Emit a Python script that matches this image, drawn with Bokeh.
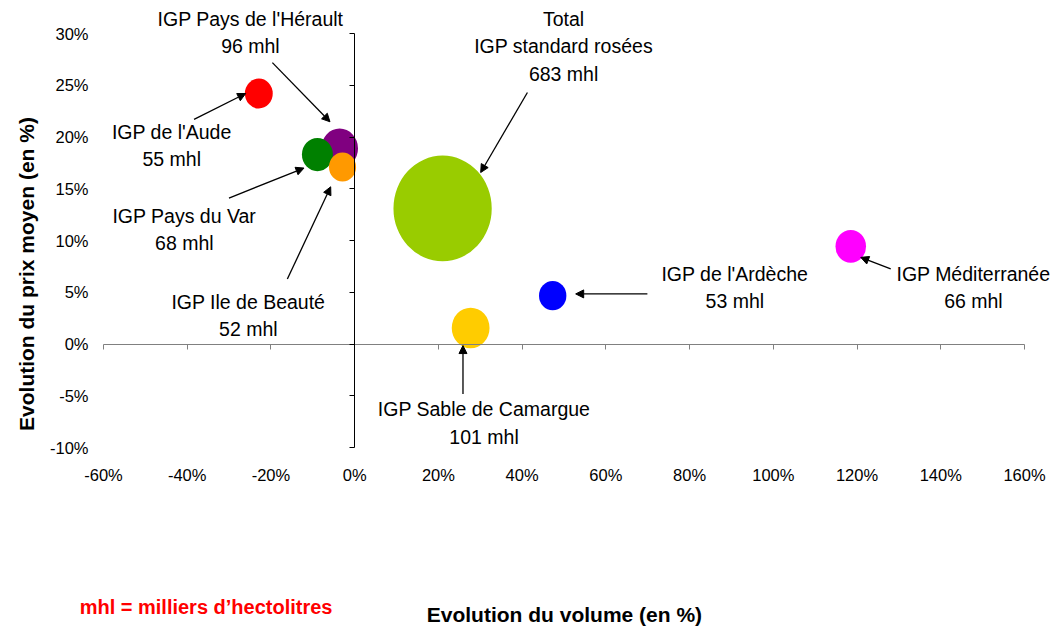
import numpy as np
from bokeh.plotting import figure
from bokeh.models import (ColumnDataSource, Range1d, LinearAxis, FixedTicker,
                          PrintfTickFormatter, Label, Arrow, NormalHead)
from bokeh.embed import file_html
from bokeh.resources import INLINE

# ---------------- data ----------------
names = ["Total\nIGP standard rosées", "IGP Sable de Camargue", "IGP Pays de l'Hérault",
         "IGP Pays du Var", "IGP Méditerranée", "IGP de l'Aude", "IGP de l'Ardèche",
         "IGP Ile de Beauté"]
vol_change = [21.0, 27.7, -3.6, -8.9, 118.5, -22.9, 47.3, -2.9]      # Evolution du volume (%)
price_change = [13.1, 1.55, 18.9, 18.3, 9.43, 24.2, 4.67, 17.1]     # Evolution du prix moyen (%)
volumes = [683, 101, 96, 68, 66, 55, 53, 52]                        # mhl
colors = ["#99CC00", "#FFCC00", "#800080", "#008000", "#FF00FF", "#FF0000", "#0000FF", "#FF9900"]

x_ticks = [-60, -40, -20, 0, 20, 40, 60, 80, 100, 120, 140, 160]
y_ticks = [-10, -5, 0, 5, 10, 15, 20, 25, 30]

# label anchor (centre of first line) in data units
label_x = [49.9, 30.9, -24.9, -40.7, 147.8, -43.7, 90.8, -25.4]
label_y = [31.4, -6.3, 31.4, 12.4, 6.8, 20.5, 6.8, 4.1]

# arrows: start (near label) -> end (near bubble)
arrow_x0 = [41.26, 25.87, -19.66, -30.03, 128.04, -38.37, 69.92, -16.08]
arrow_y0 = [24.30, -4.82, 27.19, 14.10, 7.25, 21.70, 4.84, 6.28]
arrow_x1 = [30.10, 25.87, -5.90, -12.11, 120.88, -26.04, 52.79, -5.73]
arrow_y1 = [16.57, -0.15, 21.47, 17.00, 8.37, 24.20, 4.84, 15.19]

FONT = "Liberation Sans"

# ---------------- layout geometry ----------------
W, H = 1051, 629
PLOT_L, PLOT_R, PLOT_T, PLOT_B = 103, 1024, 33, 447   # plot area in pixels
XMIN, XMAX, YMIN, YMAX = x_ticks[0], x_ticks[-1], y_ticks[0], y_ticks[-1]
kx = (PLOT_R - PLOT_L) / (XMAX - XMIN)
ky = (PLOT_B - PLOT_T) / (YMAX - YMIN)
x_range = Range1d(XMIN - PLOT_L / kx, XMAX + (W - PLOT_R) / kx)
y_range = Range1d(YMIN - (H - PLOT_B) / ky, YMAX + PLOT_T / ky)

p = figure(width=W, height=H, output_backend="svg", toolbar_location=None,
           x_range=x_range, y_range=y_range, x_axis_type=None, y_axis_type=None,
           min_border=0)
p.outline_line_color = None
p.background_fill_color = "white"
p.border_fill_color = "white"

# tick-label axes at the plot-area edges (no line, no ticks)
xl = LinearAxis(fixed_location=YMIN, bounds=(XMIN, XMAX), ticker=FixedTicker(ticks=x_ticks),
                formatter=PrintfTickFormatter(format="%d%%"), axis_line_color=None,
                major_tick_line_color=None, minor_tick_line_color=None,
                major_tick_out=0, major_tick_in=0, major_label_standoff=18,
                major_label_text_font=FONT, major_label_text_font_size="16.5px",
                major_label_text_color="black")
yl = LinearAxis(fixed_location=XMIN, bounds=(YMIN, YMAX), ticker=FixedTicker(ticks=y_ticks),
                formatter=PrintfTickFormatter(format="%d%%"), axis_line_color=None,
                major_tick_line_color=None, minor_tick_line_color=None,
                major_tick_out=0, major_tick_in=0, major_label_standoff=15,
                major_label_text_font=FONT, major_label_text_font_size="16.5px",
                major_label_text_color="black")
p.add_layout(xl, "below")
p.add_layout(yl, "left")

# central axes crossing at zero: lines and ticks only
xc = LinearAxis(fixed_location=0, bounds=(XMIN, XMAX), ticker=FixedTicker(ticks=x_ticks),
                axis_line_color="#808080", major_tick_line_color="#808080",
                major_tick_out=5, major_tick_in=0, minor_tick_line_color=None,
                major_label_text_color=None, major_label_text_font_size="1px")
yc = LinearAxis(fixed_location=0, bounds=(YMIN, YMAX), ticker=FixedTicker(ticks=y_ticks),
                axis_line_color="black", major_tick_line_color="black",
                major_tick_out=5, major_tick_in=0, minor_tick_line_color=None,
                major_label_text_color=None, major_label_text_font_size="1px")
p.add_layout(xc, "below")
p.add_layout(yc, "left")

# bubbles: area proportional to volume
src = ColumnDataSource(dict(
    x=vol_change, y=price_change, c=colors,
    w=[3.76 * np.sqrt(v) for v in volumes],
    h=[4.04 * np.sqrt(v) for v in volumes],
))
p.ellipse(x="x", y="y", width="w", height="h", width_units="screen", height_units="screen",
          fill_color="c", line_color=None, source=src)

# arrows
asrc = ColumnDataSource(dict(x0=arrow_x0, y0=arrow_y0, x1=arrow_x1, y1=arrow_y1))
p.add_layout(Arrow(x_start="x0", y_start="y0", x_end="x1", y_end="y1", source=asrc,
                   line_color="black", line_width=1.3,
                   end=NormalHead(size=8, fill_color="black", line_color="black")))

# bubble labels
for nm, vol, lx, ly in zip(names, volumes, label_x, label_y):
    lines = nm.split("\n") + [f"{vol} mhl"]
    for i, t in enumerate(lines):
        p.add_layout(Label(x=lx, y=ly, y_offset=-27.3 * i, text=t,
                           text_align="center", text_baseline="middle",
                           text_font=FONT, text_font_size="19.5px", text_color="black"))

# axis titles and note
p.add_layout(Label(x=-78.4, y=6.76, angle=np.pi / 2,
                   text="Evolution du prix moyen (en %)", text_align="center",
                   text_baseline="middle", text_font=FONT, text_font_size="21px",
                   text_font_style="bold", text_color="black"))
p.add_layout(Label(x=50.1, y=-26.1,
                   text="Evolution du volume (en %)", text_align="center",
                   text_baseline="middle", text_font=FONT, text_font_size="21px",
                   text_font_style="bold", text_color="black"))
p.add_layout(Label(x=-35.5, y=-25.4,
                   text="mhl = milliers d\u2019hectolitres", text_align="center",
                   text_baseline="middle", text_font=FONT, text_font_size="20px",
                   text_font_style="bold", text_color="#FF0000"))

open("out.html", "w").write(file_html(p, INLINE))
